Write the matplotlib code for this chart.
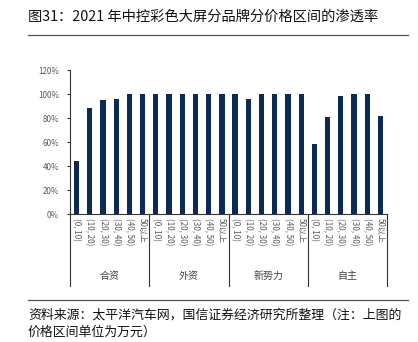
import matplotlib as mpl
mpl.use('agg')
import matplotlib.pyplot as plt
import matplotlib.transforms as mtransforms

plt.rcParams['font.family'] = ['Noto Sans CJK SC', 'DejaVu Sans']

groups = ['合资', '外资', '新势力', '自主']
ranges = ['(0, 10)', '(10, 20)', '(20, 30)', '(30, 40)', '(40, 50)', '50以上']
vals = {
    '合资': [44, 88, 95, 96, 100, 100],
    '外资': [100, 100, 100, 100, 100, 100],
    '新势力': [100, 96, 100, 100, 100, 100],
    '自主': [58, 81, 98, 100, 100, 82],
}
yticks = [0, 20, 40, 60, 80, 100, 120]

fig = plt.figure(figsize=(4.18, 3.42), dpi=100)
ax = fig.add_axes([70/418, 1-214/342, 317/418, 144/342])

n = len(ranges)
xs = []
ys = []
labels = []
for gi, g in enumerate(groups):
    for ri, r in enumerate(ranges):
        xs.append(gi*n + ri)
        ys.append(vals[g][ri])
        labels.append(r)

ax.bar(xs, ys, width=0.4, color='#0b2a56')
ax.set_xlim(-0.5, len(xs)-0.5)
ax.set_ylim(0, 120)
ax.set_yticks(yticks)
ax.set_yticklabels([str(t)+'%' for t in yticks], fontsize=5.8, color='#595959')
ax.tick_params(axis='y', length=2, width=0.8, color='#333333', pad=6)
ax.set_xticks(xs)
ax.set_xticklabels(labels, rotation=-90, fontsize=5.8, color='#595959')
ax.tick_params(axis='x', length=0, pad=3)
for s in ['top', 'right']:
    ax.spines[s].set_visible(False)
ax.spines['left'].set_color('#333333')
ax.spines['bottom'].set_color('#333333')
ax.spines['left'].set_linewidth(0.8)
ax.spines['bottom'].set_linewidth(0.8)

trans = mtransforms.blended_transform_factory(ax.transData, ax.transAxes)
for gi in range(len(groups)+1):
    xb = gi*n - 0.5
    ax.plot([xb, xb], [0, -0.5], color='#333333', lw=0.8, transform=trans, clip_on=False)
for gi, g in enumerate(groups):
    ax.text(gi*n + (n-1)/2, -0.43, g, transform=trans, ha='center', va='center',
            fontsize=7.2, color='#404040')

# header and footer
fig.text(28/418, 1-17/342, '图31：2021 年中控彩色大屏分品牌分价格区间的渗透率',
         fontsize=10.3, ha='left', va='center', color='#111111')
fig.add_artist(plt.Line2D([28/418, 408/418], [1-35/342, 1-35/342], color='#555555', lw=0.9))
fig.add_artist(plt.Line2D([28/418, 408/418], [1-300/342, 1-300/342], color='#555555', lw=0.9))
fig.text(28/418, 1-315/342, '资料来源：太平洋汽车网，国信证券经济研究所整理（注：上图的',
         fontsize=9.3, ha='left', va='center', color='#111111')
fig.text(28/418, 1-332/342, '价格区间单位为万元）',
         fontsize=9.3, ha='left', va='center', color='#111111')

fig.savefig('out.png', dpi=100)
